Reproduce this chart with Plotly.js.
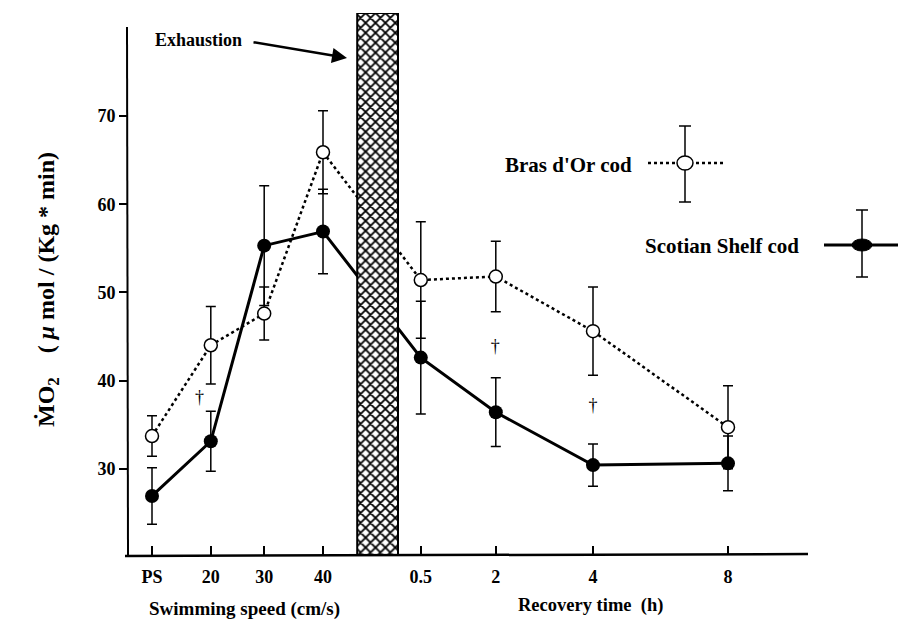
<!DOCTYPE html>
<html>
<head>
<meta charset="utf-8">
<script src="https://cdn.plot.ly/plotly-3.0.1.min.js"></script>
<style>html,body{margin:0;padding:0;background:#fff;}#chart{width:898px;height:621px;}</style>
</head>
<body>
<div id="chart"></div>
<script>
// ---- data ----
const categories = ["PS", "20", "30", "40", "0.5", "2", "4", "8"];
const xPos = [0.45, 1.43, 2.32, 3.30, 4.93, 6.18, 7.80, 10.05];
const brasMean = [33.7, 44.0, 47.6, 65.9, 51.4, 51.8, 45.6, 34.7];
const brasErr  = [2.3, 4.4, 3.0, 4.7, 6.6, 4.0, 5.0, 4.7];
const scotMean = [26.9, 33.1, 55.3, 56.9, 42.6, 36.4, 30.4, 30.6];
const scotErr  = [3.2, 3.4, 6.8, 4.8, 6.4, 3.9, 2.4, 3.1];
const yTicks = [30, 40, 50, 60, 70];
const exhaustionSpan = [3.87, 4.55];
const daggerX = [1.24, 6.17, 7.80];
const daggerY = [38.0, 43.7, 37.0];

// ---- layout helpers (pixel -> axis / paper units) ----
const L = 128, T = 13, B = 555, W = 770, H = B - T;
const X0 = 0.05, XR = X0 + W / 60, Y0 = 20.2, Y1 = 81.7;
const Y = p => Y0 + (B - p) * (Y1 - Y0) / H;
const PX = p => (p - L) / W;
const PY = p => (B - p) / H;
const serif = "Liberation Serif, Times New Roman, serif";
const bold = s => ({family: serif, size: s, color: "#000", weight: "bold"});

const traces = [
  {
    x: xPos, y: brasMean, type: "scatter", mode: "lines+markers",
    line: {color: "#000", width: 2.5, dash: "dot"},
    marker: {symbol: "circle", size: 13, color: "#fff", line: {color: "#000", width: 1.5}},
    error_y: {type: "data", array: brasErr, visible: true, color: "#000", thickness: 1.5, width: 5},
    name: "Bras d'Or cod", showlegend: false, cliponaxis: false
  },
  {
    x: xPos, y: scotMean, type: "scatter", mode: "lines+markers",
    line: {color: "#000", width: 3},
    marker: {symbol: "circle", size: 14, color: "#000"},
    error_y: {type: "data", array: scotErr, visible: true, color: "#000", thickness: 1.5, width: 5},
    name: "Scotian Shelf cod", showlegend: false, cliponaxis: false
  },
  {
    x: [(exhaustionSpan[0] + exhaustionSpan[1]) / 2], y: [Y1 - Y(556)], base: [Y(556)],
    width: [exhaustionSpan[1] - exhaustionSpan[0]], type: "bar",
    xaxis: "x2", yaxis: "y2", showlegend: false, hoverinfo: "skip",
    marker: {color: "#fff", line: {color: "#000", width: 2},
      pattern: {shape: "x", size: 7, solidity: 0.45, fgcolor: "#000", bgcolor: "#fff"}}
  },
  {
    x: daggerX, y: daggerY, type: "scatter", mode: "text", text: daggerX.map(() => "†"),
    textfont: {family: serif, size: 18, color: "#000"}, showlegend: false, hoverinfo: "skip"
  }
];

const ln = (x0, y0, x1, y1, w, dash) => ({type: "line", xref: "paper", yref: "paper",
  x0: PX(x0), x1: PX(x1), y0: PY(y0), y1: PY(y1), line: {color: "#000", width: w, dash: dash || "solid"}});

const shapes = [
  // axis lines
  ln(125, 556, 808, 554, 2.5),
  ln(128, 556, 127, 27, 2),
  // legend glyph: Bras d'Or
  ln(648, 163, 725, 163, 2.5, "dot"),
  ln(685, 126, 685, 202, 1.5),
  ln(679, 126, 691, 126, 1.5),
  ln(679, 202, 691, 202, 1.5),
  {type: "circle", xref: "paper", yref: "paper", x0: PX(677), x1: PX(693), y0: PY(170), y1: PY(156), fillcolor: "#fff", line: {color: "#000", width: 1.5}},
  // legend glyph: Scotian Shelf
  ln(824, 245, 898, 245, 3),
  ln(862, 210, 862, 277, 1.5),
  ln(856, 210, 868, 210, 1.5),
  ln(856, 277, 868, 277, 1.5),
  {type: "circle", xref: "paper", yref: "paper", x0: PX(852), x1: PX(872), y0: PY(251), y1: PY(239), fillcolor: "#000", line: {color: "#000", width: 1}}
];

const note = (x, y, text, size, extra) => Object.assign({x: PX(x), y: PY(y), xref: "paper", yref: "paper",
  xanchor: "center", yanchor: "middle", text: text, showarrow: false, font: bold(size)}, extra || {});

const annotations = [
  note(198, 40, "Exhaustion", 18),
  {x: PX(347), y: PY(58), ax: PX(252), ay: PY(42), axref: "paper", ayref: "paper", xref: "paper", yref: "paper",
   text: "", showarrow: true, arrowhead: 2, arrowsize: 1.2, arrowwidth: 2.5, arrowcolor: "#000"},
  note(568, 165, "Bras d'Or cod", 21),
  note(722, 246, "Scotian Shelf cod", 21),
  note(244, 609, "Swimming speed (cm/s)", 19),
  note(590, 605, "Recovery time  (h)", 18.5),
  note(48, 290, "ṀO<sub>2</sub>    ( <i>μ</i> mol / (Kg * min)", 24, {textangle: -90})
];

const layout = {
  width: 898, height: 621,
  margin: {l: L, r: 0, t: T, b: 621 - B},
  paper_bgcolor: "#fff", plot_bgcolor: "rgba(0,0,0,0)",
  showlegend: false,
  xaxis: {range: [X0, XR], showgrid: false, zeroline: false, showline: false,
    tickmode: "array", tickvals: xPos, ticktext: categories,
    ticks: "inside", ticklen: 9, tickwidth: 2, tickcolor: "#000",
    ticklabelstandoff: 9, tickfont: bold(18)},
  yaxis: {range: [Y0, Y1], showgrid: false, zeroline: false, showline: false,
    tickmode: "array", tickvals: yTicks, ticks: "outside", ticklen: 8, tickwidth: 2, tickcolor: "#000",
    tickfont: bold(18)},
  xaxis2: {range: [X0, XR], overlaying: "x", visible: false},
  yaxis2: {range: [Y0, Y1], overlaying: "y", visible: false},
  shapes: shapes,
  annotations: annotations
};

Plotly.newPlot("chart", traces, layout, {displayModeBar: false, staticPlot: true});
</script>
</body>
</html>
